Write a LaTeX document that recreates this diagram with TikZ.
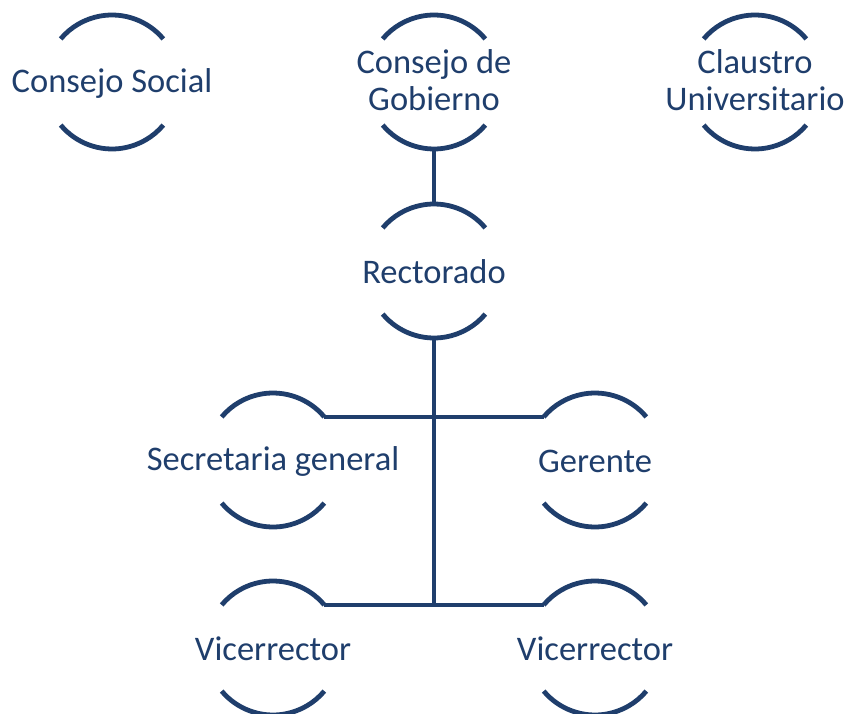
\documentclass[tikz,border=0pt]{standalone}
\usepackage{fontspec}
\setmainfont{Carlito}
\usetikzlibrary{calc}
\definecolor{navy}{RGB}{31,62,108}
\tikzset{
  lbl/.style={font=\fontsize{34.5}{37}\selectfont, text=navy, align=center, inner sep=0pt},
  ring/.style={draw=navy, line width=4.8pt},
  conn/.style={draw=navy, line width=4.8pt}
}
\newcommand\ringarcs[1]{%
  \draw[ring] (#1) ++(40:67pt) coordinate (#1-ne) arc[start angle=40,end angle=140,radius=67pt] coordinate (#1-nw);
  \draw[ring] (#1) ++(220:67pt) coordinate (#1-sw) arc[start angle=220,end angle=320,radius=67pt] coordinate (#1-se);
  \coordinate (#1-n) at ($(#1)+(0,67pt)$);
  \coordinate (#1-s) at ($(#1)+(0,-67pt)$);
}
\begin{document}
\begin{tikzpicture}[x=1pt,y=-1pt]
\useasboundingbox (0,0) rectangle (848,714);
\coordinate (soc) at (112,82);
\coordinate (gob) at (434,82);
\coordinate (cla) at (755,82);
\coordinate (rect) at (434,271);
\coordinate (sec) at (273,460);
\coordinate (ger) at (595,460);
\coordinate (vic1) at (273,648);
\coordinate (vic2) at (595,648);
\node[lbl] (socT) at (112,83) {Consejo Social};
\node[lbl] (gobT) at (434,80) {Consejo de\\Gobierno};
\node[lbl] (claT) at (755,80) {Claustro\\Universitario};
\node[lbl] (rectT) at (434,272) {Rectorado};
\node[lbl] (secT) at (273,461) {Secretaria general};
\node[lbl] (gerT) at (595,461) {Gerente};
\node[lbl] (vic1T) at (273,649) {Vicerrector};
\node[lbl] (vic2T) at (595,649) {Vicerrector};
\ringarcs{soc}
\ringarcs{gob}
\ringarcs{cla}
\ringarcs{rect}
\ringarcs{sec}
\ringarcs{ger}
\ringarcs{vic1}
\ringarcs{vic2}
\coordinate (junc) at (rect-s |- vic1-ne);
\draw[conn] (gob-s) -- (rect-n);
\draw[conn] (rect-s) -- ([yshift=-2.4pt]junc);
\draw[conn] (sec-ne) -- (ger-nw);
\draw[conn] (vic1-ne) -- (vic2-nw);
\end{tikzpicture}
\end{document}
